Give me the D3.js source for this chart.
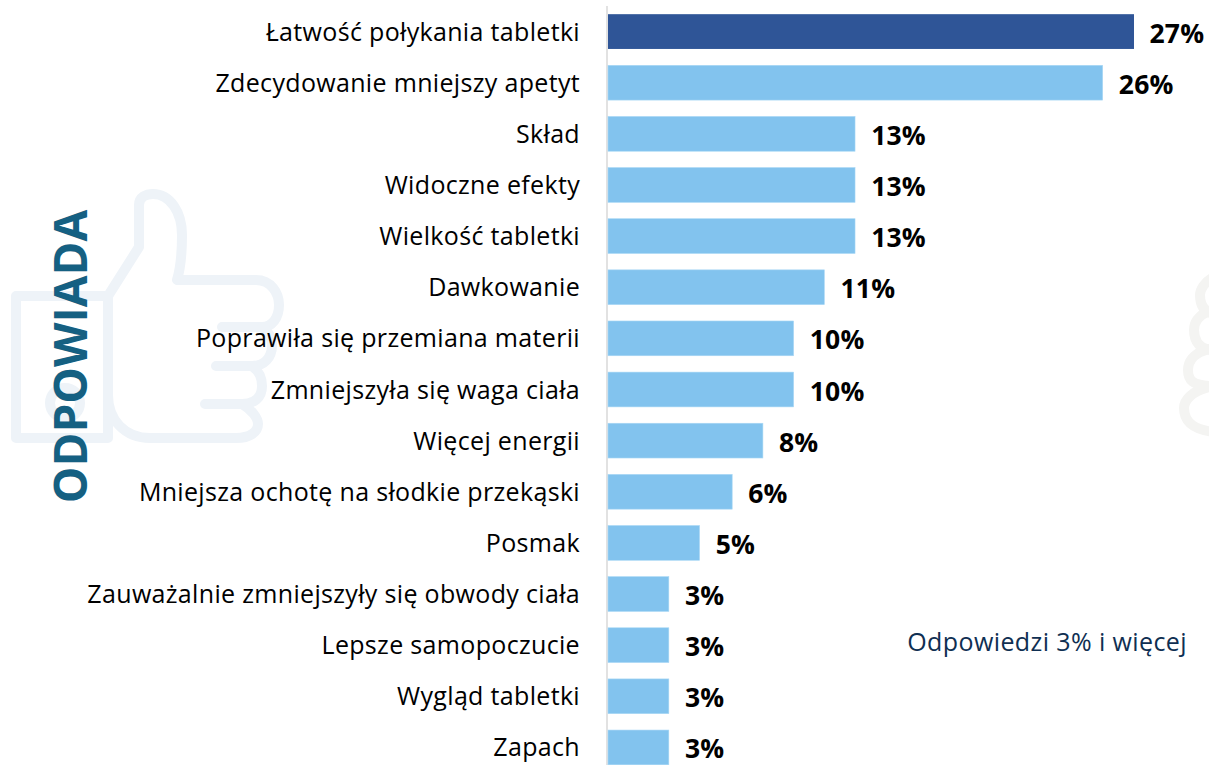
<!DOCTYPE html>
<html><head><meta charset="utf-8">
<script src="https://cdnjs.cloudflare.com/ajax/libs/d3/7.8.5/d3.min.js"></script>
<style>html,body{margin:0;padding:0;background:#fff;overflow:hidden}svg{display:block}</style>
</head><body><svg id="c" width="1209" height="765"></svg>
<script>
const categories=["Łatwość połykania tabletki","Zdecydowanie mniejszy apetyt","Skład","Widoczne efekty","Wielkość tabletki","Dawkowanie","Poprawiła się przemiana materii","Zmniejszyła się waga ciała","Więcej energii","Mniejsza ochotę na słodkie przekąski","Posmak","Zauważalnie zmniejszyły się obwody ciała","Lepsze samopoczucie","Wygląd tabletki","Zapach"];
const values=[27.4,25.8,12.9,12.9,12.9,11.3,9.7,9.7,8.1,6.5,4.8,3.2,3.2,3.2,3.2];
const valueLabels=["27%","26%","13%","13%","13%","11%","10%","10%","8%","6%","5%","3%","3%","3%","3%"];
const axisTitle="ODPOWIADA";
const note="Odpowiedzi 3% i więcej";

const svg=d3.select("#c");
const wm=svg.append("g").attr("fill","none").attr("stroke-width",10).attr("stroke-linecap","round").attr("stroke-linejoin","round");
wm.append("g").attr("stroke","#eef3f8").selectAll("path").data([
 "M16 296H108V438H16Z",
 "M108 296L139 247V205C139 197 146 194 153 194C170 194 182 212 182 235C182 255 180 270 177 280H256C271 280 279 293 279 305C279 318 272 327 262 327H222",
 "M262 327C270 333 272 340 272 345C272 358 264 366 252 366H216",
 "M252 366C260 372 262 378 262 386C262 398 254 404 242 404H205",
 "M242 404C252 410 258 418 258 424C258 432 250 438 236 438H150C125 438 108 420 108 395"
]).join("path").attr("d",d=>d);
wm.append("circle").attr("stroke","#eef3f8").attr("cx",65).attr("cy",403).attr("r",15);
wm.append("g").attr("stroke","#f4f4f2").selectAll("path").data([
 "M1214 277C1204 282 1200 290 1200 295C1200 305 1204 312 1214 314",
 "M1214 310C1196 314 1194 325 1194 330C1194 342 1200 350 1214 350",
 "M1214 348C1190 352 1188 365 1188 370C1188 380 1192 386 1214 386",
 "M1214 386C1190 390 1184 402 1184 408C1184 425 1198 430 1214 432"
]).join("path").attr("d",d=>d);

const x=d3.scaleLinear().domain([0,27.4]).range([608,1134]);
const y=d3.scaleBand().domain(categories).range([6,773]).paddingInner(0.32).paddingOuter(0.16);
const colour=(d,i)=>i===0?"#2f5597":"#82c3ee";

svg.append("line").attr("x1",607).attr("x2",607).attr("y1",6).attr("y2",765).attr("stroke","#d9d9d9").attr("stroke-width",1.5);

svg.selectAll("rect.b").data(values).join("rect").attr("class","b")
 .attr("x",x(0)).attr("y",(d,i)=>y(categories[i])).attr("width",(d,i)=>x(d)-x(0)-(i===0?0:0.6)).attr("height",y.bandwidth()).attr("fill",colour)
 .attr("stroke",(d,i)=>i===0?"none":"#a9d8f5").attr("stroke-width",0.6);

const yAxis=d3.axisLeft(y).tickSize(0).tickPadding(0);
const ag=svg.append("g").attr("transform","translate(580,0)").call(yAxis);
ag.select(".domain").remove();
ag.selectAll("text").attr("font-family","'Open Sans'").attr("font-size",25).attr("letter-spacing",0.33).attr("fill","#000").attr("dy",0)
 .attr("transform","translate(0,9)");

svg.selectAll("text.v").data(values).join("text").attr("class","v")
 .attr("x",d=>x(d)+15.5).attr("y",(d,i)=>y(categories[i])+y.bandwidth()/2+11)
 .attr("font-family","'Open Sans'").attr("font-weight",700).attr("font-size",26.5).attr("letter-spacing",0.2).attr("fill","#000")
 .text((d,i)=>valueLabels[i]);

svg.append("text").attr("transform","translate(87,356.5) rotate(-90)").attr("text-anchor","middle")
 .attr("font-family","'Open Sans'").attr("font-weight",700).attr("font-size",46).attr("fill","#156082").text(axisTitle);
svg.append("text").attr("x",1187).attr("y",651).attr("text-anchor","end").attr("font-family","'Open Sans'").attr("font-size",25).attr("letter-spacing",0.4).attr("fill","#0f2f52").text(note);
</script></body></html>
